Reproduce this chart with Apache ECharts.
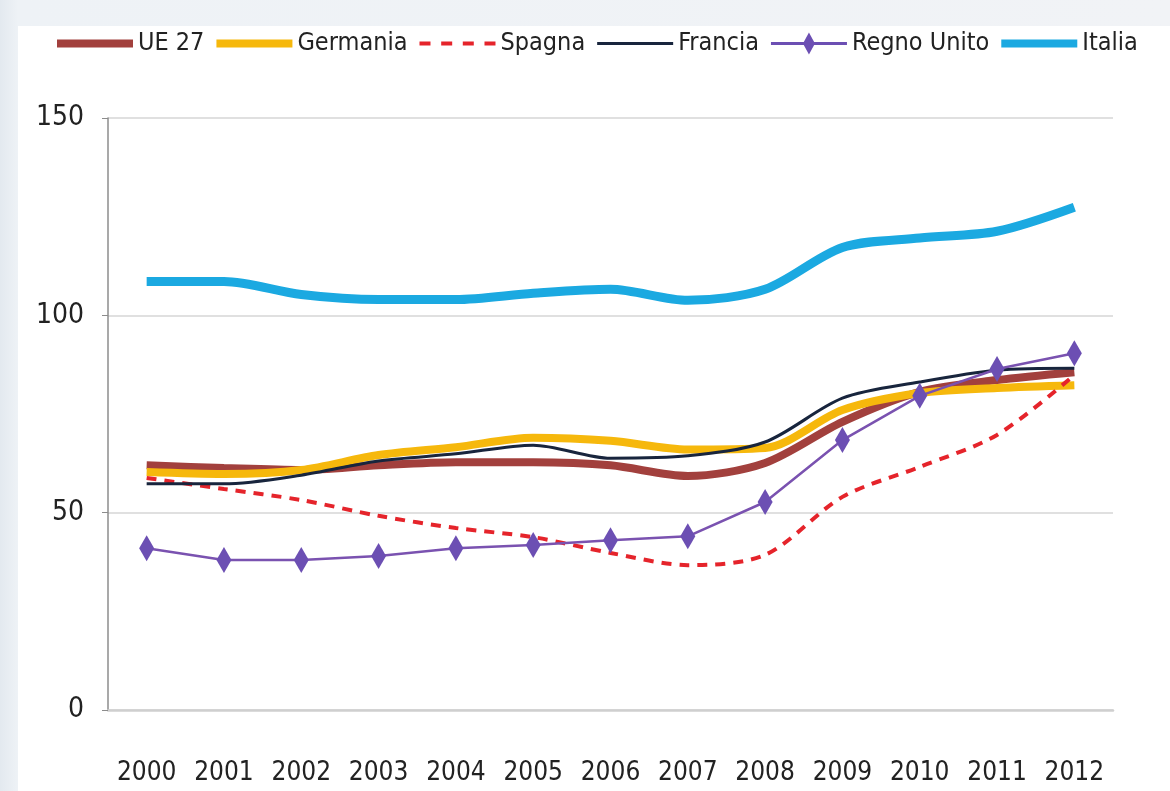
<!DOCTYPE html>
<html>
<head>
<meta charset="utf-8">
<script src="https://cdn.jsdelivr.net/npm/echarts@6/dist/echarts.min.js"></script>
<style>
html,body{margin:0;padding:0;width:1170px;height:791px;overflow:hidden;}
body{background:linear-gradient(90deg,#e3e9ef 0px,#eef2f6 18px,#f1f3f6 100%);}
#bg{position:absolute;left:18px;top:26px;right:0;bottom:0;background:#fff;}
#chart{position:absolute;left:0;top:0;width:1170px;height:791px;}
</style>
</head>
<body>
<div id="bg"></div>
<div id="chart"></div>
<script>
const categories = ['2000','2001','2002','2003','2004','2005','2006','2007','2008','2009','2010','2011','2012'];
const seriesNames = ['UE 27','Germania','Spagna','Francia','Regno Unito','Italia'];
const ue27       = [62, 61.3, 60.8, 62, 62.8, 62.8, 62, 59.3, 62.6, 73, 80.6, 83.6, 85.6];
const germania   = [60.3, 59.8, 60.8, 64.6, 66.6, 69, 68.2, 66, 66.4, 76, 80.3, 81.6, 82.3];
const spagna     = [58.8, 56, 53.2, 49.2, 46.1, 43.8, 39.8, 36.7, 39.3, 54, 61.6, 69.7, 84.9];
const francia    = [57.3, 57.3, 59.5, 63.1, 64.9, 67.1, 63.8, 64.4, 67.9, 79, 83.1, 86.1, 86.6];
const regnoUnito = [41, 38, 38, 39, 41, 41.8, 43, 44, 52.7, 68.4, 79.6, 86.4, 90.4];
const italia     = [108.6, 108.6, 105.3, 104, 104, 105.6, 106.6, 103.8, 106.6, 117.2, 119.6, 121.3, 127.4];
const yTicks = [0, 50, 100, 150];

const FONT = '"DejaVu Sans Condensed","Liberation Sans Narrow","Liberation Sans",sans-serif';
const chart = echarts.init(document.getElementById('chart'));

// legend icon shapes (aspect kept, centred in the legend box)
const ICON_THICK = 'path://M0,0 H76 V8 H0 Z';
const ICON_THIN = 'path://M0,0 H76 V3 H0 Z';
const ICON_DASH = 'path://M0,0 H11 V4 H0 Z M21.7,0 H32.7 V4 H21.7 Z M43.3,0 H54.3 V4 H43.3 Z M65,0 H76 V4 H65 Z';
const ICON_DIAMOND = 'path://M0,9.5 H76 V12.5 H0 Z M38,0 L44,11 L38,22 L32,11 Z';

function line(name, data, color, width, opts) {
  return Object.assign({
    name, type: 'line', data,
    symbol: 'none',
    smooth: 0.3,
    lineStyle: { color, width },
    itemStyle: { color },
    emphasis: { disabled: true }
  }, opts || {});
}

chart.setOption({
  animation: false,
  backgroundColor: 'transparent',
  legend: {
    left: 52, top: 26,
    itemWidth: 76, itemHeight: 22, itemGap: 12,
    textStyle: { fontFamily: FONT, fontSize: 25, color: '#222' },
    data: [
      { name: seriesNames[0], icon: ICON_THICK },
      { name: seriesNames[1], icon: ICON_THICK },
      { name: seriesNames[2], icon: ICON_DASH },
      { name: seriesNames[3], icon: ICON_THIN },
      { name: seriesNames[4], icon: ICON_DIAMOND },
      { name: seriesNames[5], icon: ICON_THICK }
    ]
  },
  grid: { left: 108, right: 57, top: 118, bottom: 81 },
  xAxis: {
    type: 'category', data: categories, boundaryGap: true,
    axisLine: { lineStyle: { color: '#cfcfcf', width: 2.5 } },
    axisTick: { show: false },
    axisLabel: { fontFamily: FONT, fontSize: 26, color: '#222', margin: 50, interval: 0 }
  },
  yAxis: {
    type: 'value', min: yTicks[0], max: yTicks[yTicks.length - 1], interval: 50,
    axisLine: { show: true, lineStyle: { color: '#8c8c8c', width: 1.5 } },
    axisTick: { show: true, length: 6, lineStyle: { color: '#8c8c8c' } },
    splitLine: { lineStyle: { color: '#d6d6d6', width: 1.5 } },
    axisLabel: { fontFamily: FONT, fontSize: 28, color: '#222', margin: 24 }
  },
  series: [
    line(seriesNames[0], ue27, '#a2403d', 8),
    line(seriesNames[1], germania, '#f6b80c', 8),
    line(seriesNames[2], spagna, '#e5242b', 4, { lineStyle: { color: '#e5242b', width: 4, type: [10, 8] } }),
    line(seriesNames[3], francia, '#18253d', 3),
    line(seriesNames[4], regnoUnito, '#7a52b0', 2.5, {
      smooth: false, symbol: 'diamond', symbolSize: [15, 26], showSymbol: true,
      itemStyle: { color: '#6c4fb3' }
    }),
    line(seriesNames[5], italia, '#1ba9e1', 9)
  ]
});
</script>
</body>
</html>
